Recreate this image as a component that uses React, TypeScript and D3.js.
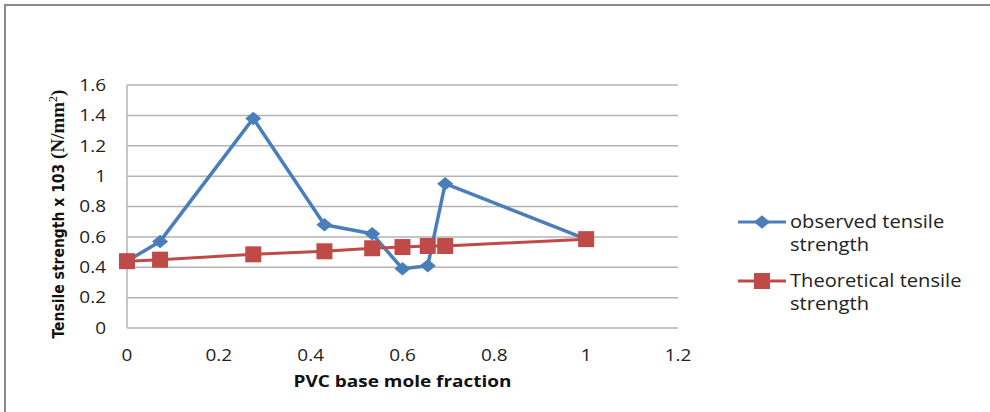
import { useEffect, useRef } from "react";
import * as d3 from "d3";

const width = 990;
const height = 412;

const moleFraction = [0, 0.072, 0.275, 0.43, 0.534, 0.6, 0.655, 0.693, 1.0];
const observed = [0.44, 0.57, 1.38, 0.68, 0.62, 0.39, 0.41, 0.95, 0.585];
const theoretical = [0.44, 0.45, 0.485, 0.505, 0.525, 0.533, 0.54, 0.54, 0.585];

const xTicks = [0, 0.2, 0.4, 0.6, 0.8, 1, 1.2];
const yTicks = [0, 0.2, 0.4, 0.6, 0.8, 1, 1.2, 1.4, 1.6];

const blue = "#4a7ebb";
const red = "#be4b48";
const font = "'Open Sans', 'Liberation Sans', sans-serif";
const stretch = 1.15;

const margin = { left: 127, right: 312, top: 85, bottom: 84 };

export default function App() {
  const svgRef = useRef<SVGSVGElement | null>(null);

  useEffect(() => {
    const svg = d3.select(svgRef.current);
    svg.selectAll("*").remove();

    const x = d3.scaleLinear().domain([0, 1.2]).range([margin.left, width - margin.right]);
    const y = d3.scaleLinear().domain([0, 1.6]).range([height - margin.bottom, margin.top]);

    // text with the slight horizontal stretch seen in the picture
    const label = (
      px: number,
      py: number,
      t: string,
      size: number,
      anchor: string,
      bold = false
    ) =>
      svg
        .append("text")
        .attr("transform", `translate(${px},${py}) scale(${stretch},1)`)
        .attr("dy", "0.35em")
        .attr("text-anchor", anchor)
        .attr("font-family", font)
        .attr("font-weight", bold ? "bold" : "normal")
        .attr("font-size", size)
        .attr("fill", bold ? "#111" : "#222")
        .text(t);

    // outer frame
    svg
      .append("rect")
      .attr("x", 5)
      .attr("y", 5)
      .attr("width", width)
      .attr("height", height)
      .attr("fill", "white")
      .attr("stroke", "#8c8c8c")
      .attr("stroke-width", 2);

    // gridlines
    svg
      .append("g")
      .selectAll("line")
      .data(yTicks.slice(1))
      .enter()
      .append("line")
      .attr("x1", x(0))
      .attr("x2", x(1.2))
      .attr("y1", (d) => y(d))
      .attr("y2", (d) => y(d))
      .attr("stroke", "#b3b3b3")
      .attr("stroke-width", 1.5);

    // axes lines
    svg
      .append("line")
      .attr("x1", x(0))
      .attr("x2", x(0))
      .attr("y1", y(0))
      .attr("y2", y(1.6))
      .attr("stroke", "#b3b3b3")
      .attr("stroke-width", 1.5);
    svg
      .append("line")
      .attr("x1", x(0))
      .attr("x2", x(1.2))
      .attr("y1", y(0))
      .attr("y2", y(0))
      .attr("stroke", "#b3b3b3")
      .attr("stroke-width", 1.5);

    // tick labels
    yTicks.forEach((d) => label(x(0) - 21, y(d), String(d), 16.5, "end"));
    xTicks.forEach((d) => label(x(d), y(0) + 27, String(d), 16.5, "middle"));

    // axis titles
    label(x(0.6), 381, "PVC base mole fraction", 16.5, "middle", true);

    const yTitle = svg
      .append("text")
      .attr("transform", `translate(58,214) rotate(-90)`)
      .attr("dy", "0.35em")
      .attr("text-anchor", "middle")
      .attr("fill", "#111");
    yTitle
      .append("tspan")
      .attr("font-family", "'Liberation Sans Narrow', 'DejaVu Sans Condensed', sans-serif")
      .attr("font-weight", "bold")
      .attr("font-size", 15.5)
      .text("Tensile strength x 103 ");
    yTitle
      .append("tspan")
      .attr("font-family", "'Liberation Serif', serif")
      .attr("font-weight", "bold")
      .attr("font-size", 19)
      .text("(N/mm");
    yTitle
      .append("tspan")
      .attr("font-family", "'Liberation Serif', serif")
      .attr("font-size", 12)
      .attr("dy", "-0.55em")
      .text("2");
    yTitle
      .append("tspan")
      .attr("font-family", "'Liberation Serif', serif")
      .attr("font-weight", "bold")
      .attr("font-size", 19)
      .attr("dy", "0.35em")
      .text(")");

    const line = d3
      .line<[number, number]>()
      .x((d) => x(d[0]))
      .y((d) => y(d[1]));

    const obsPts = moleFraction.map((m, i) => [m, observed[i]] as [number, number]);
    const thPts = moleFraction.map((m, i) => [m, theoretical[i]] as [number, number]);

    const diamond = d3.symbol().type(d3.symbolDiamond2).size(115);
    const square = 16;

    // observed series
    svg
      .append("path")
      .attr("d", line(obsPts))
      .attr("fill", "none")
      .attr("stroke", blue)
      .attr("stroke-width", 3.5)
      .attr("stroke-linejoin", "round");
    svg
      .append("g")
      .selectAll("path")
      .data(obsPts)
      .enter()
      .append("path")
      .attr("d", diamond() as string)
      .attr("transform", (d) => `translate(${x(d[0])},${y(d[1])}) scale(1.2,1)`)
      .attr("fill", blue);

    // theoretical series
    svg
      .append("path")
      .attr("d", line(thPts))
      .attr("fill", "none")
      .attr("stroke", red)
      .attr("stroke-width", 3)
      .attr("stroke-linejoin", "round");
    svg
      .append("g")
      .selectAll("rect")
      .data(thPts)
      .enter()
      .append("rect")
      .attr("x", (d) => x(d[0]) - square / 2)
      .attr("y", (d) => y(d[1]) - square / 2)
      .attr("width", square)
      .attr("height", square)
      .attr("fill", red);

    // legend
    const items = [
      { color: blue, lines: ["observed tensile", "strength"], y: 222, marker: "diamond" },
      { color: red, lines: ["Theoretical tensile", "strength"], y: 281, marker: "square" },
    ];
    items.forEach((it) => {
      svg
        .append("line")
        .attr("x1", 738)
        .attr("x2", 786)
        .attr("y1", it.y)
        .attr("y2", it.y)
        .attr("stroke", it.color)
        .attr("stroke-width", 3);
      if (it.marker === "diamond") {
        svg
          .append("path")
          .attr("d", diamond() as string)
          .attr("transform", `translate(762,${it.y}) scale(1.2,1)`)
          .attr("fill", it.color);
      } else {
        svg
          .append("rect")
          .attr("x", 762 - square / 2)
          .attr("y", it.y - square / 2)
          .attr("width", square)
          .attr("height", square)
          .attr("fill", it.color);
      }
      it.lines.forEach((t, i) => label(790, it.y + i * 23, t, 17.5, "start"));
    });
  }, []);

  return (
    <svg
      ref={svgRef}
      width={width}
      height={height}
      style={{ position: "absolute", left: 0, top: 0, background: "white" }}
    />
  );
}
